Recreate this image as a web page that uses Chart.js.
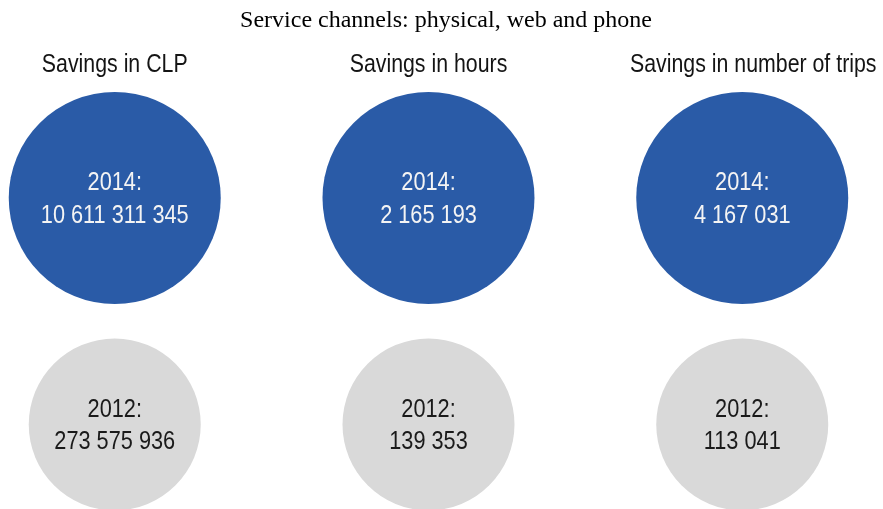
<!DOCTYPE html>
<html>
<head>
<meta charset="utf-8">
<script src="https://cdn.jsdelivr.net/npm/chart.js@4/dist/chart.umd.min.js"></script>
<style>
  html, body { margin: 0; padding: 0; background: #ffffff; }
  #wrap { width: 883px; height: 509px; position: relative; }
</style>
</head>
<body>
<div id="wrap"><canvas id="chart"></canvas></div>
<script>
// Savings from service channels (physical, web and phone)
const chartTitle = 'Service channels: physical, web and phone';
const categories = ['Savings in CLP', 'Savings in hours', 'Savings in number of trips'];
const years = ['2014', '2012'];
const savings2014 = [10611311345, 2165193, 4167031];
const savings2012 = [273575936, 139353, 113041];

// Styling
const BLUE = '#2A5BA7';
const GREY = '#D9D9D9';
const SANS = '"Liberation Sans", Arial, sans-serif';
const SERIF = '"Liberation Serif", "Times New Roman", serif';
const NARROW = 0.82;               // condensed sans look
const headerShift = [0, 0, 11];    // header nudges per column (px)

const fmt = v => String(v).replace(/\B(?=(\d{3})+(?!\d))/g, ' ');

// Row index on the y scale: 2014 row on top, 2012 row below
const rowOf = { '2014': 1, '2012': 0 };

function drawText(ctx, text, x, y, font, color, sx) {
  ctx.save();
  ctx.font = font;
  ctx.fillStyle = color;
  ctx.textAlign = 'center';
  ctx.textBaseline = 'alphabetic';
  ctx.translate(x, y);
  ctx.scale(sx, 1);
  ctx.fillText(text, 0, 0);
  ctx.restore();
}

const labelsPlugin = {
  id: 'circleLabels',
  afterDatasetsDraw(chart) {
    const ctx = chart.ctx;
    const xs = chart.scales.x;

    // chart title
    drawText(ctx, chartTitle, 446, 27, '24px ' + SERIF, '#000000', 1);

    // column headers
    categories.forEach((c, i) => {
      drawText(ctx, c, xs.getPixelForValue(i) + headerShift[i], 72,
               '26px ' + SANS, '#141414', NARROW);
    });

    // year / value labels inside each circle
    chart.data.datasets.forEach((ds, di) => {
      const meta = chart.getDatasetMeta(di);
      meta.data.forEach((el, j) => {
        const v = ds.values[j];
        drawText(ctx, ds.label + ':', el.x, el.y - 8, '26.5px ' + SANS, ds.textColor, NARROW);
        drawText(ctx, fmt(v), el.x, el.y + 24.5, '26.5px ' + SANS, ds.textColor, NARROW);
      });
    });
  }
};

new Chart(document.getElementById('chart'), {
  type: 'bubble',
  data: {
    datasets: [
      {
        label: years[0],
        values: savings2014,
        data: categories.map((c, i) => ({ x: i, y: rowOf[years[0]] })),
        backgroundColor: BLUE,
        borderWidth: 0,
        radius: 106,
        textColor: '#F4F4F4'
      },
      {
        label: years[1],
        values: savings2012,
        data: categories.map((c, i) => ({ x: i, y: rowOf[years[1]] })),
        backgroundColor: GREY,
        borderWidth: 0,
        radius: 86,
        textColor: '#1A1A1A'
      }
    ]
  },
  options: {
    responsive: true,
    maintainAspectRatio: false,
    animation: false,
    events: [],
    clip: false,
    layout: { padding: 0, autoPadding: false },
    plugins: {
      legend: { display: false },
      title: { display: false },
      tooltip: { enabled: false }
    },
    scales: {
      x: { type: 'linear', display: false, min: -0.3657, max: 2.4486 },
      y: { type: 'linear', display: false, min: -0.373, max: 1.8742 }
    }
  },
  plugins: [labelsPlugin]
});
</script>
</body>
</html>
